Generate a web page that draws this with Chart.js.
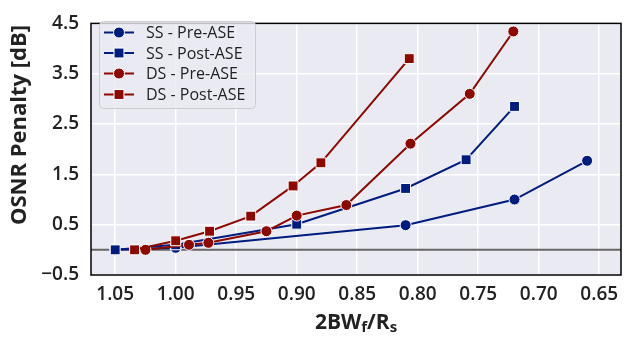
<!DOCTYPE html>
<html>
<head>
<meta charset="utf-8">
<script src="https://cdn.jsdelivr.net/npm/chart.js@4.4.0/dist/chart.umd.min.js"></script>
<style>
  html, body { margin: 0; padding: 0; background: #fff; }
</style>
</head>
<body>
<canvas id="c" width="629" height="337"></canvas>
<script>
// values
const ssPreX  = [1.05, 1.00, 0.81, 0.72, 0.66];
const ssPreY  = [0.00, 0.04, 0.49, 1.00, 1.77];
const ssPostX = [1.05, 1.00, 0.90, 0.81, 0.76, 0.72];
const ssPostY = [0.00, 0.10, 0.51, 1.22, 1.79, 2.85];
const dsPreX  = [1.025, 0.989, 0.973, 0.925, 0.90, 0.859, 0.806, 0.757, 0.721];
const dsPreY  = [0.00, 0.10, 0.14, 0.37, 0.68, 0.89, 2.11, 3.10, 4.34];
const dsPostX = [1.034, 1.00, 0.972, 0.938, 0.903, 0.88, 0.807];
const dsPostY = [0.00, 0.18, 0.37, 0.67, 1.27, 1.73, 3.80];

const xTicks = [1.05, 1.00, 0.95, 0.90, 0.85, 0.80, 0.75, 0.70, 0.65];
const yTicks = [-0.5, 0.5, 1.5, 2.5, 3.5, 4.5];

const BLUE = '#001c7f';
const RED = '#8c0800';
const TEXT = '#222222';
const FONT = '"Open Sans", "Noto Sans", sans-serif';

function pts(xs, ys) {
    return xs.map((x, i) => ({ x: x, y: ys[i] }));
}

function series(label, xs, ys, color, style, order) {
    return {
        label: label,
        data: pts(xs, ys),
        showLine: true,
        borderColor: color,
        backgroundColor: color,
        borderWidth: 2,
        pointStyle: style,
        pointRadius: style === 'rect' ? 7 : 5.5,
        pointHoverRadius: style === 'rect' ? 7 : 5.5,
        pointBackgroundColor: color,
        pointBorderColor: '#fff',
        pointBorderWidth: 1,
        order: order,
    };
}

// zero line, frame, legend box and axis titles
const decor = {
    id: 'decor',
    beforeDatasetsDraw(chart) {
        const ctx = chart.ctx, a = chart.chartArea;
        const y0 = chart.scales.y.getPixelForValue(0);
        ctx.save();
        ctx.strokeStyle = '#666666';
        ctx.lineWidth = 2;
        ctx.beginPath();
        ctx.moveTo(a.left, y0);
        ctx.lineTo(a.right, y0);
        ctx.stroke();
        ctx.restore();
    },
    afterDatasetsDraw(chart) {
        const ctx = chart.ctx, a = chart.chartArea;
        ctx.save();
        // frame
        ctx.strokeStyle = '#000';
        ctx.lineWidth = 1.5;
        ctx.strokeRect(a.left, a.top, a.right - a.left, a.bottom - a.top);

        // legend
        const bx = 99, by = 21, bw = 156, bh = 87;
        ctx.fillStyle = 'rgba(234,234,242,0.8)';
        ctx.strokeStyle = '#cccccc';
        ctx.lineWidth = 1;
        ctx.beginPath();
        ctx.roundRect(bx + 0.5, by + 0.5, bw, bh, 4);
        ctx.fill();
        ctx.stroke();
        const rows = [32.5, 53, 73.5, 94.5];
        chart.data.datasets.forEach((ds, i) => {
            const ry = rows[i];
            ctx.strokeStyle = ds.borderColor;
            ctx.lineWidth = 2;
            ctx.beginPath();
            ctx.moveTo(104, ry);
            ctx.lineTo(134, ry);
            ctx.stroke();
            ctx.fillStyle = ds.pointBackgroundColor;
            ctx.strokeStyle = '#fff';
            ctx.lineWidth = 1;
            ctx.beginPath();
            if (ds.pointStyle === 'rect') {
                const s = ds.pointRadius * Math.SQRT1_2;
                ctx.rect(119 - s, ry - s, 2 * s, 2 * s);
            } else {
                ctx.arc(119, ry, ds.pointRadius, 0, Math.PI * 2);
            }
            ctx.fill();
            ctx.stroke();
            ctx.fillStyle = TEXT;
            ctx.font = '500 16px ' + FONT;
            ctx.textAlign = 'left';
            ctx.textBaseline = 'middle';
            ctx.fillText(ds.label, 146, ry + 1);
        });

        // y title
        ctx.fillStyle = TEXT;
        ctx.font = 'bold 22px ' + FONT;
        ctx.textAlign = 'center';
        ctx.textBaseline = 'middle';
        ctx.translate(20, 125);
        ctx.rotate(-Math.PI / 2);
        ctx.fillText('OSNR Penalty [dB]', 0, 0);
        ctx.setTransform(1, 0, 0, 1, 0, 0);

        // x title with subscripts
        const parts = [['2BW', 0], ['f', 1], ['/R', 0], ['s', 1]];
        const big = 'bold 21px ' + FONT, small = 'bold 15px ' + FONT;
        let total = 0;
        parts.forEach(p => { ctx.font = p[1] ? small : big; total += ctx.measureText(p[0]).width; });
        let x = (a.left + a.right) / 2 - total / 2;
        ctx.textAlign = 'left';
        ctx.textBaseline = 'alphabetic';
        parts.forEach(p => {
            ctx.font = p[1] ? small : big;
            ctx.fillText(p[0], x, p[1] ? 332 : 329);
            x += ctx.measureText(p[0]).width;
        });
        ctx.restore();
    }
};

new Chart(document.getElementById('c'), {
    type: 'scatter',
    data: {
        datasets: [
            series('SS - Pre-ASE', ssPreX, ssPreY, BLUE, 'circle', 4),
            series('SS - Post-ASE', ssPostX, ssPostY, BLUE, 'rect', 3),
            series('DS - Pre-ASE', dsPreX, dsPreY, RED, 'circle', 2),
            series('DS - Post-ASE', dsPostX, dsPostY, RED, 'rect', 1),
        ],
    },
    options: {
        responsive: false,
        animation: false,
        layout: { padding: { top: 12, right: 1, left: 0, bottom: 0 } },
        scales: {
            x: {
                type: 'linear',
                reverse: true,
                min: 0.632,
                max: 1.07,
                afterBuildTicks: axis => { axis.ticks = xTicks.map(v => ({ value: v })); },
                afterFit: axis => { axis.height = 62; },
                ticks: {
                    padding: 8,
                    color: TEXT,
                    font: { family: FONT, size: 19, weight: 600 },
                    callback: v => v.toFixed(2),
                },
                grid: { color: '#ffffff', lineWidth: 1.5, drawTicks: false },
                border: { display: false },
            },
            y: {
                min: -0.5,
                max: 4.5,
                afterBuildTicks: axis => { axis.ticks = yTicks.map(v => ({ value: v })); },
                afterFit: axis => { axis.width = 91; },
                ticks: {
                    padding: 12,
                    color: TEXT,
                    font: { family: FONT, size: 19, weight: 600 },
                    callback: v => (v < 0 ? '\u2212' + Math.abs(v).toFixed(1) : v.toFixed(1)),
                },
                grid: { color: '#ffffff', lineWidth: 1.5, drawTicks: false },
                border: { display: false },
            },
        },
        plugins: {
            legend: { display: false },
            tooltip: { enabled: false },
        },
    },
    plugins: [{
        id: 'bg',
        beforeDraw(chart) {
            const ctx = chart.ctx, a = chart.chartArea;
            ctx.save();
            ctx.fillStyle = '#eaeaf2';
            ctx.fillRect(a.left, a.top, a.right - a.left, a.bottom - a.top);
            ctx.restore();
        }
    }, decor],
});
</script>
</body>
</html>
